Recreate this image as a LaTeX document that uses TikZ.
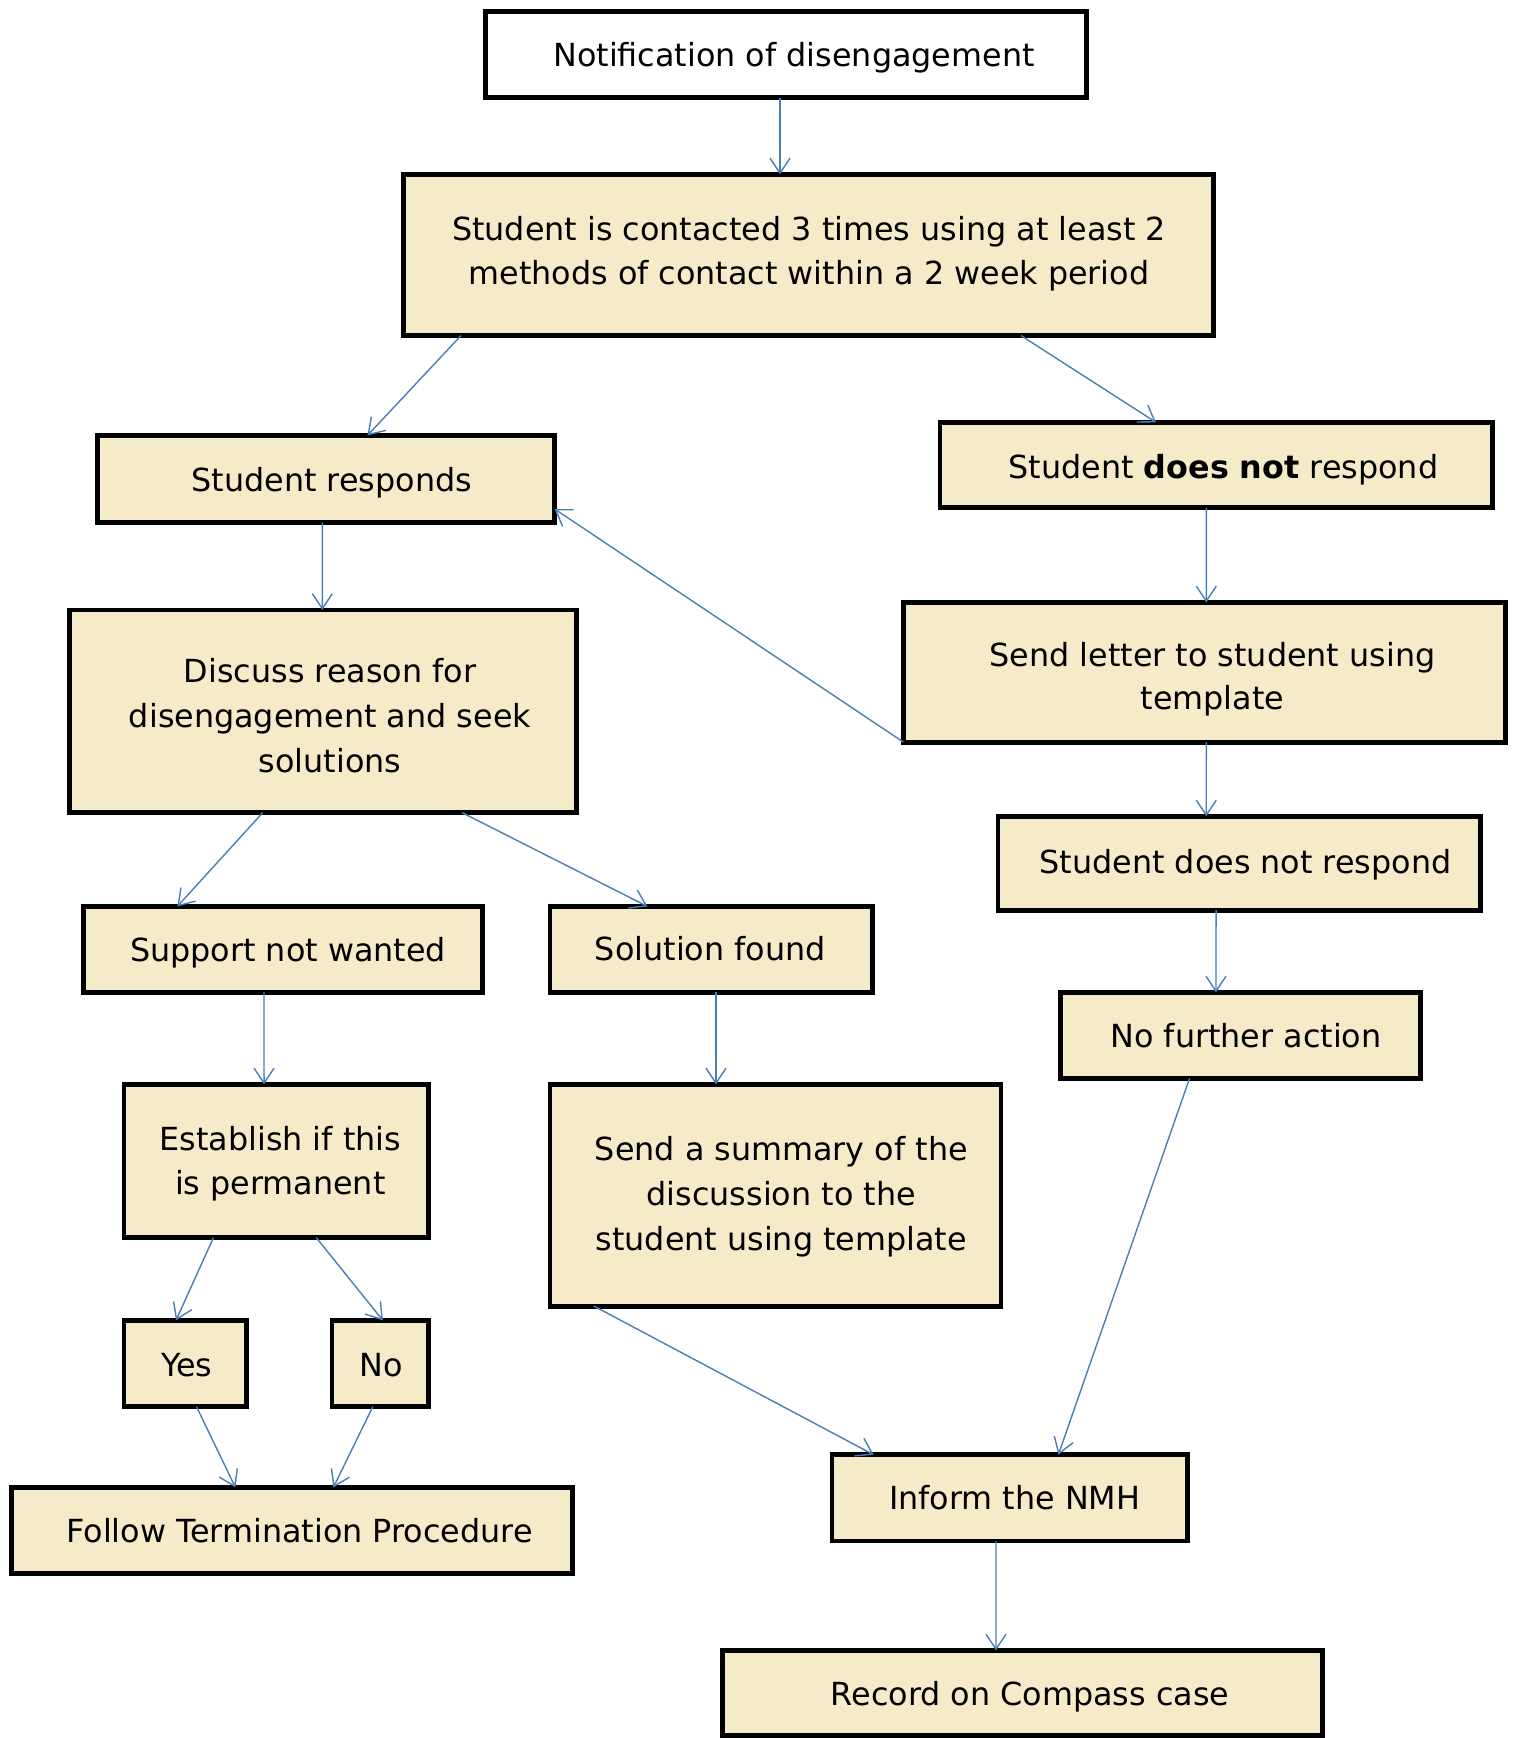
\documentclass[tikz,border=0pt]{standalone}
\usepackage{fontspec}
\setmainfont{DejaVu Sans}
\usetikzlibrary{arrows.meta}
\definecolor{boxfill}{RGB}{246,235,200}
\definecolor{conncol}{RGB}{74,126,187}
% #1 fill, #2 name, #3 x1, #4 y1, #5 x2, #6 y2 (outer edges, px)
\newcommand\flowbox[6][boxfill]{%
  \node[box, fill=#1, minimum width={(#5-#3-4.8)*0.5pt}, minimum height={(#6-#4-4.8)*0.5pt}] (#2) at ({(#3+#5)/2},{(#4+#6)/2}) {};}
\begin{document}
\begin{tikzpicture}[x=0.5pt,y=-0.5pt,
  box/.style={draw=black, line width=2.4pt, rectangle, inner sep=0pt, outer sep=0pt},
  txt/.style={inner sep=0pt, align=center, anchor=base, font=\fontsize{15.9pt}{22.2pt}\selectfont},
  conn/.style={draw=conncol, line width=0.7pt, -{Straight Barb[length=7.5pt,width=10pt]}}]
\useasboundingbox (0,0) rectangle (1521,1738);

% boxes
\flowbox[white]{n1}{483}{9}{1089}{100}
\flowbox{n2}{401}{172}{1216}{338}
\flowbox{n3}{95}{433}{557}{525}
\flowbox{n4}{67}{607.5}{578.5}{815}
\flowbox{n5}{937.5}{420}{1495}{510}
\flowbox{n6}{901}{600}{1507.5}{744.5}
\flowbox{n7}{995.5}{814}{1483}{912.5}
\flowbox{n8}{1057.7}{990}{1423}{1080.7}
\flowbox{n9}{81}{904}{485}{994.5}
\flowbox{n10}{547.5}{904}{874.5}{994.5}
\flowbox{n11}{121.5}{1082}{431}{1240}
\flowbox{n12}{121.5}{1318}{248.5}{1409}
\flowbox{n13}{329.5}{1318}{431}{1409}
\flowbox{n14}{9}{1485}{574.5}{1576}
\flowbox{n15}{547.5}{1082}{1003.3}{1308.5}
\flowbox{n16}{829.6}{1452.3}{1189.5}{1543.3}
\flowbox{n17}{719.8}{1648}{1325}{1738}

% texts (anchor=base: baseline of the last line)
\node[txt] (t1) at (794,67) {Notification of disengagement};
\node[txt, font=\fontsize{15.9pt}{22.15pt}\selectfont] (t2) at (809,285) {Student is contacted 3 times using at least 2\\methods of contact within a 2 week period};
\node[txt] (t3) at (331.8,491) {Student responds};
\node[txt, font=\fontsize{15.9pt}{22.5pt}\selectfont] (t4) at (330,772) {Discuss reason for\\disengagement and seek\\solutions};
\node[txt] (t5) at (1223.4,478) {Student \textbf{does not} respond};
\node[txt, font=\fontsize{15.9pt}{21.35pt}\selectfont] (t6) at (1212.5,709.4) {Send letter to student using\\template};
\node[txt] (t7) at (1245.5,873) {Student does not respond};
\node[txt] (t8) at (1246,1047) {No further action};
\node[txt] (t9) at (288,961.7) {Support not wanted};
\node[txt] (t10) at (710.3,960.7) {Solution found};
\node[txt, font=\fontsize{15.9pt}{22.35pt}\selectfont] (t11) at (280.3,1194.7) {Establish if this\\is permanent};
\node[txt] (t12) at (186.8,1376.4) {Yes};
\node[txt] (t13) at (381.6,1376.4) {No};
\node[txt] (t14) at (299.5,1542) {Follow Termination Procedure};
\node[txt, font=\fontsize{15.9pt}{22.5pt}\selectfont] (t15) at (781.3,1250) {Send a summary of the\\discussion to the\\student using template};
\node[txt] (t16) at (1014.6,1509) {Inform the NMH};
\node[txt] (t17) at (1030,1705) {Record on Compass case};

% connectors
\draw[conn] ([xshift=-3pt]n1.south) -- ([xshift=-14.25pt]n2.north);
\draw[conn] ([xshift=-173.75pt]n2.south) -- ([xshift=20.75pt]n3.north);
\draw[conn] ([xshift=106.25pt]n2.south) -- ([xshift=-30.1pt]n5.north);
\draw[conn] ([xshift=-1.85pt]n3.south) -- ([xshift=-0.22pt]n4.north);
\draw[conn] (n6.south west) -- ([yshift=-15pt]n3.east);
\draw[conn] ([xshift=-4.97pt]n5.south) -- ([xshift=1.02pt]n6.north);
\draw[conn] ([xshift=1.02pt]n6.south) -- ([xshift=-16.5pt]n7.north);
\draw[conn] ([xshift=-11.6pt]n7.south) -- ([xshift=-12.2pt]n8.north);
\draw[conn] ([xshift=-30pt]n4.south) -- ([xshift=-52.8pt]n9.north);
\draw[conn] ([xshift=69.6pt]n4.south) -- ([xshift=-31.8pt]n10.north);
\draw[conn] ([xshift=-9.5pt]n9.south) -- ([xshift=-6.1pt]n11.north);
\draw[conn] ([xshift=2.5pt]n10.south) -- ([xshift=-29.7pt]n15.north);
\draw[conn] ([xshift=-31.4pt]n11.south) -- ([xshift=-4.5pt]n12.north);
\draw[conn] ([xshift=20pt]n11.south) -- ([xshift=1.3pt]n13.north);
\draw[conn] ([xshift=5.75pt]n12.south) -- ([xshift=-28.2pt]n14.north);
\draw[conn] ([xshift=-3.7pt]n13.south) -- ([xshift=20.8pt]n14.north);
\draw[conn] ([xshift=-90.7pt]n15.south) -- ([xshift=-68pt]n16.north);
\draw[conn] ([xshift=-25.4pt]n8.south) -- ([xshift=24.4pt]n16.north);
\draw[conn] ([xshift=-6.8pt]n16.south) -- ([xshift=-13.2pt]n17.north);
\end{tikzpicture}
\end{document}
